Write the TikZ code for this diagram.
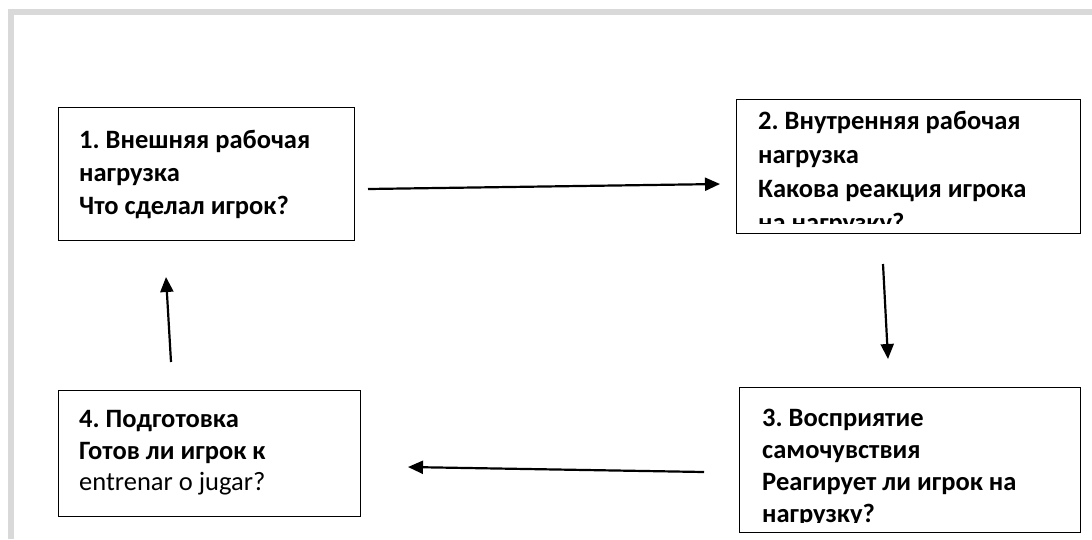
\documentclass[tikz,border=0pt]{standalone}
\usepackage{fontspec}
\setmainfont{Carlito}
\frenchspacing
\usetikzlibrary{arrows.meta,calc}
\definecolor{framegray}{RGB}{217,217,217}
\tikzset{
  box/.style={draw=black, line width=1.4pt, fill=white, inner sep=0pt, anchor=north west},
  txt/.style={anchor=north west, inner sep=0pt, align=left, font=\fontsize{26.5}{33}\selectfont\bfseries},
  conn/.style={line width=2.2pt, -{Triangle[length=15pt,width=13pt]}}
}
\begin{document}
\begin{tikzpicture}[x=1pt,y=-1pt]
\useasboundingbox (0,0) rectangle (1092,539);
\fill[white] (0,0) rectangle (1092,539);
\draw[framegray, line width=6pt] (11,539) -- (11,12) -- (1092,12);

% boxes
\node[box, minimum width=296pt, minimum height=133pt] (b1) at (58,107) {};
\node[box, minimum width=344pt, minimum height=134pt] (b2) at (736,99) {};
\node[box, minimum width=341pt, minimum height=145pt] (b3) at (739,387) {};
\node[box, minimum width=302pt, minimum height=126pt] (b4) at (58,390) {};

% texts
\node[txt] (t1) at (79,130) {1. Внешняя рабочая\\нагрузка\\Что сделал игрок?};
\begin{scope}
\clip (737,100) rectangle (1079,223);
\node[txt, font=\fontsize{26.5}{34}\selectfont\bfseries] (t2) at (758,111) {2. Внутренняя рабочая\\нагрузка\\Какова реакция игрока\\на нагрузку?};
\end{scope}
\begin{scope}
\clip (740,388) rectangle (1079,522);
\node[txt, font=\fontsize{26.5}{32}\selectfont\bfseries] (t3) at (762,408.5) {3. Восприятие\\самочувствия\\Реагирует ли игрок на\\нагрузку?};
\end{scope}
\node[txt, font=\fontsize{26.5}{31.5}\selectfont\bfseries] (t4) at (79,410.5) {4. Подготовка\\Готов ли игрок к\\{\mdseries entrenar o jugar?}};

% connector end points
\coordinate (a1s) at (368,189);
\coordinate (a1e) at (720,184);
\coordinate (a2s) at (883,264);
\coordinate (a2e) at (888,359);
\coordinate (a3s) at (704,472);
\coordinate (a3e) at (408,467);
\coordinate (a4s) at (171,362);
\coordinate (a4e) at (166,277);

\draw[conn] (a1s) -- (a1e);
\draw[conn] (a2s) -- (a2e);
\draw[conn] (a3s) -- (a3e);
\draw[conn] (a4s) -- (a4e);
\end{tikzpicture}
\end{document}
